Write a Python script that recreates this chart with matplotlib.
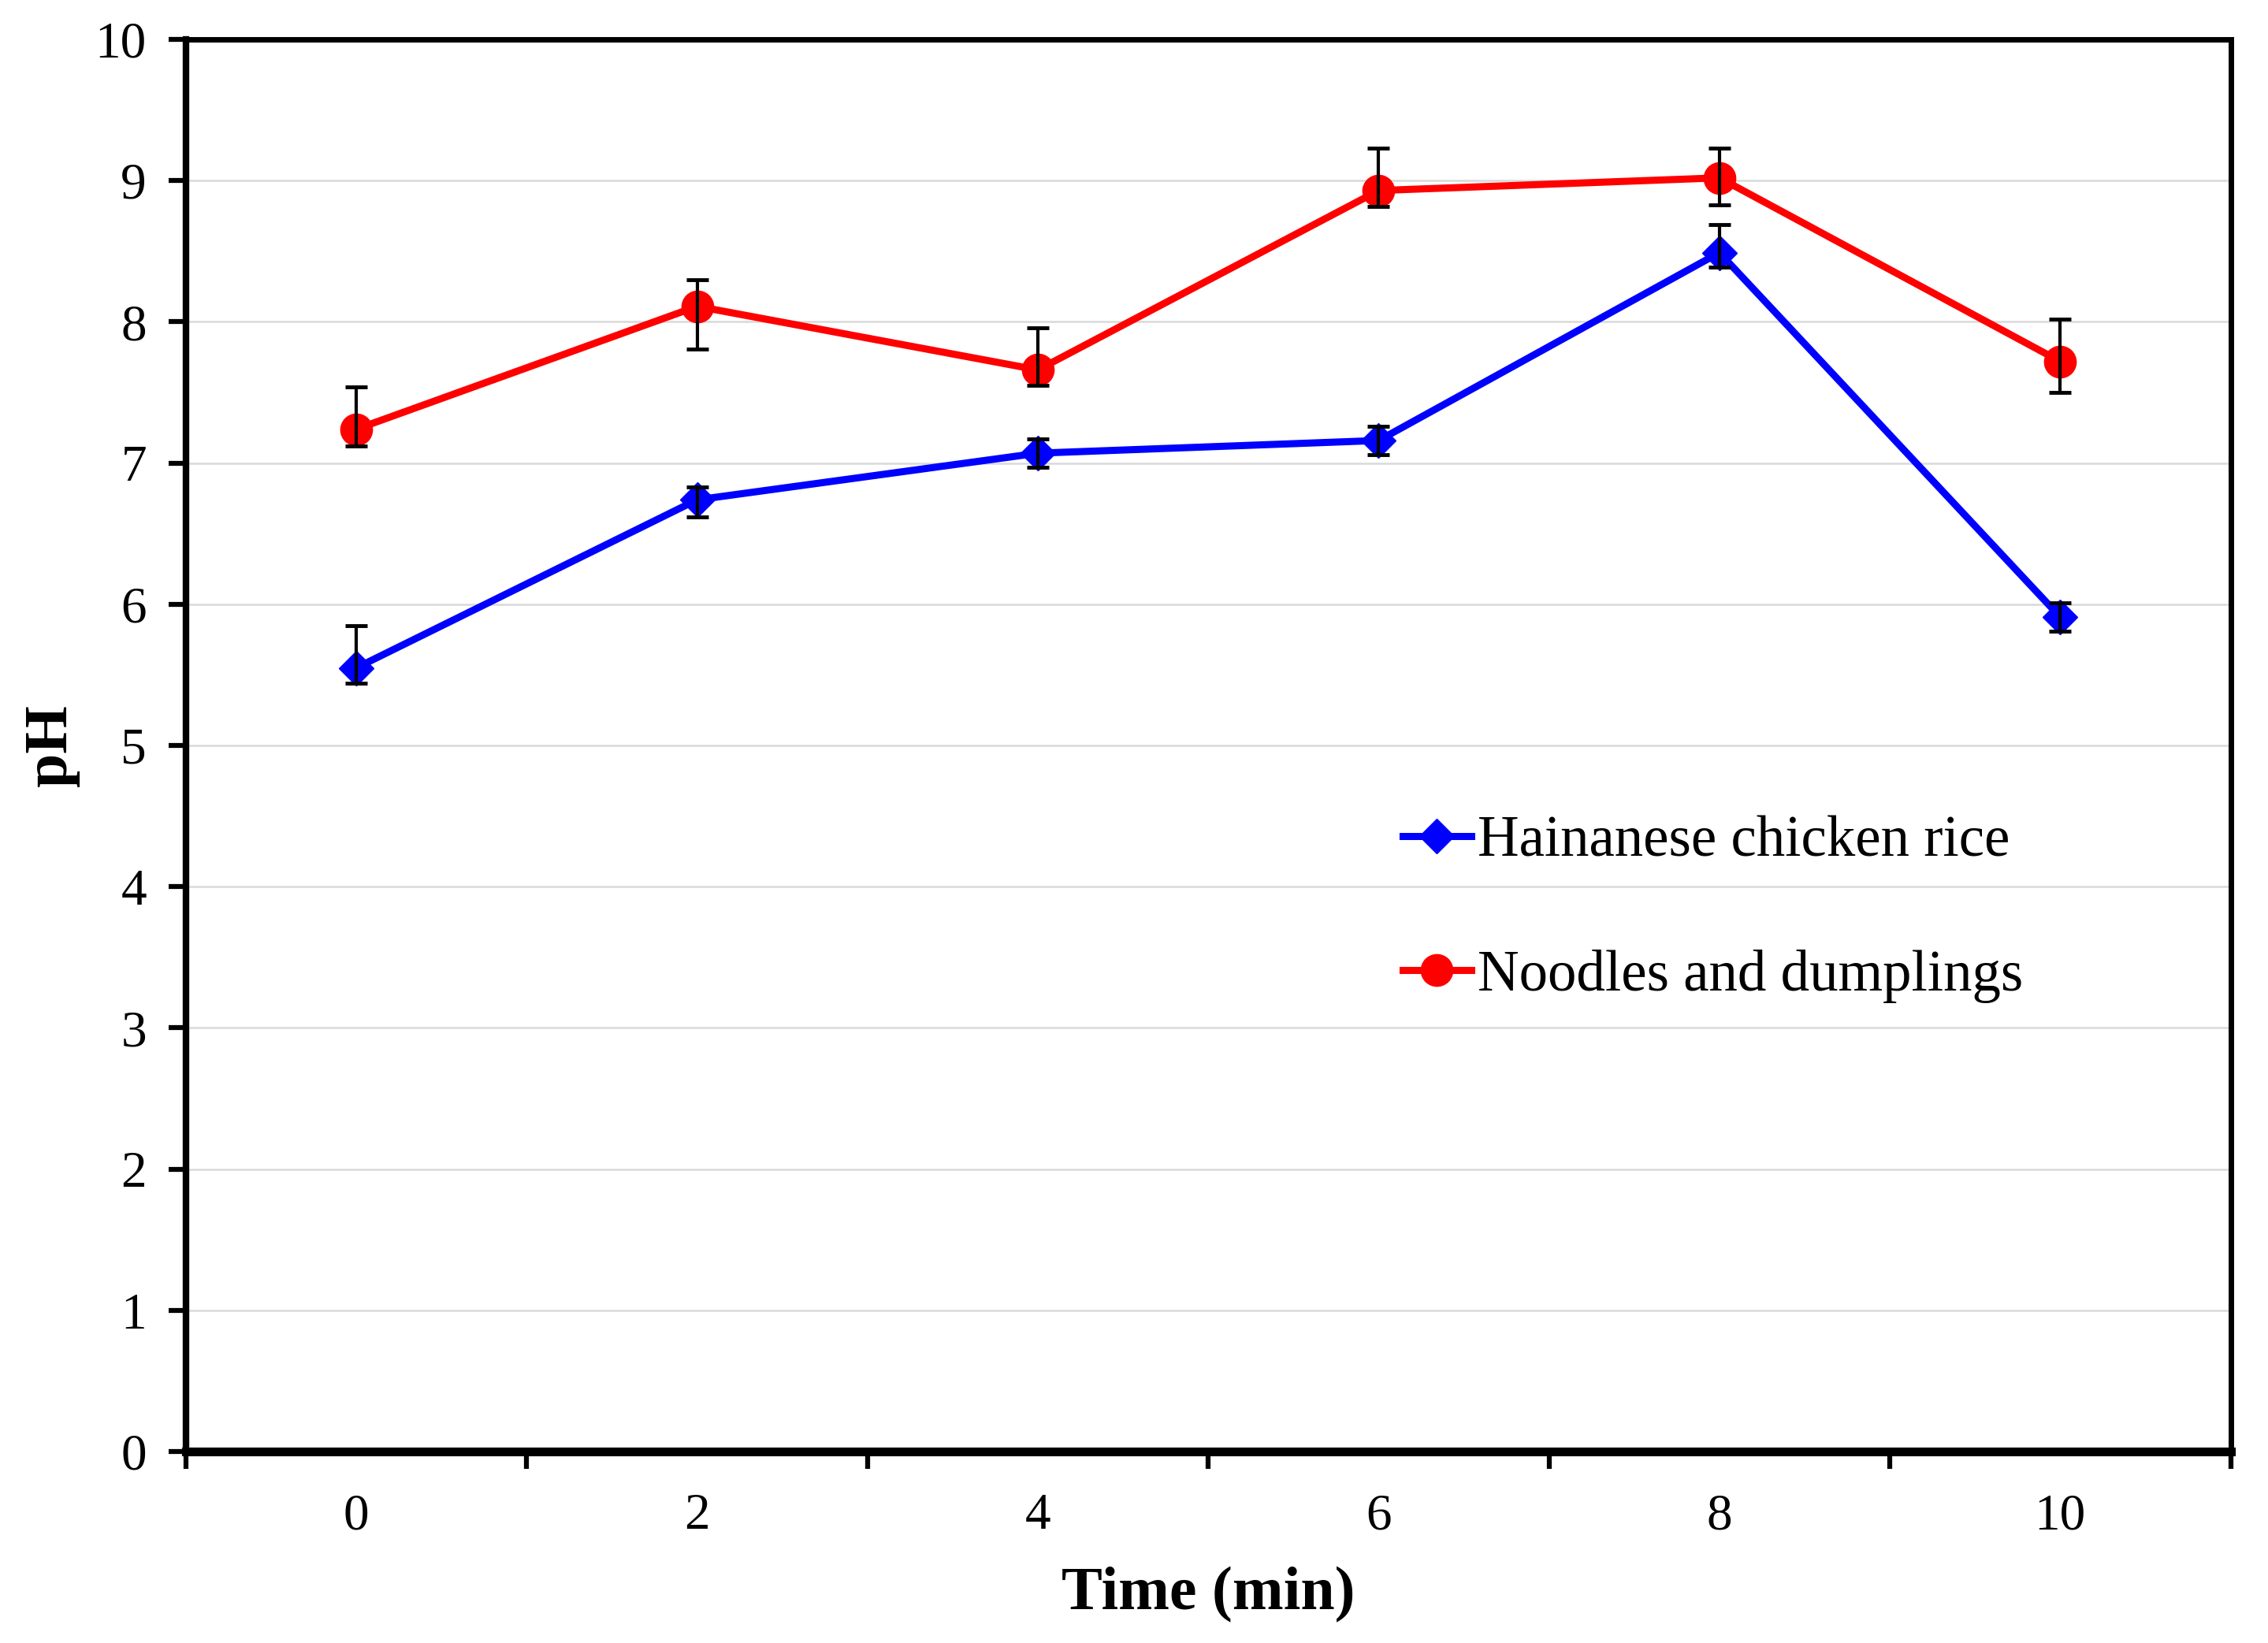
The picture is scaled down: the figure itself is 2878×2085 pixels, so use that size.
import matplotlib
matplotlib.use('Agg')
import matplotlib.pyplot as plt
import numpy as np

plt.rcParams['font.family'] = ['Liberation Serif', 'DejaVu Serif']

# data
time_min = [0, 2, 4, 6, 8, 10]

hcr_ph = [5.55, 6.74, 7.07, 7.16, 8.49, 5.91]
hcr_err_lo = [0.11, 0.12, 0.10, 0.10, 0.10, 0.10]
hcr_err_hi = [0.30, 0.09, 0.10, 0.10, 0.20, 0.10]

nd_ph = [7.24, 8.11, 7.66, 8.93, 9.02, 7.72]
nd_err_lo = [0.12, 0.30, 0.11, 0.11, 0.19, 0.22]
nd_err_hi = [0.30, 0.19, 0.30, 0.30, 0.21, 0.30]

y_ticks = [0, 1, 2, 3, 4, 5, 6, 7, 8, 9, 10]

fig = plt.figure(figsize=(28.78, 20.85), dpi=100)
ax = fig.add_axes([0.082, 0.1165, 0.9015, 0.8595])

ax.yaxis.grid(True, color='#d9d9d9', linewidth=1.8, zorder=0)
ax.set_axisbelow(True)

ax.plot(time_min, hcr_ph, color='#0000ff', linewidth=6.5, marker='D', markersize=22,
        label='Hainanese chicken rice', zorder=3)
ax.plot(time_min, nd_ph, color='#ff0000', linewidth=6.5, marker='o', markersize=29,
        label='Noodles and dumplings', zorder=3)

ax.errorbar(time_min, hcr_ph, yerr=[hcr_err_lo, hcr_err_hi], fmt='none', ecolor='black',
            elinewidth=3, capsize=10, capthick=3.5, zorder=4)
ax.errorbar(time_min, nd_ph, yerr=[nd_err_lo, nd_err_hi], fmt='none', ecolor='black',
            elinewidth=3, capsize=10, capthick=3.5, zorder=4)

ax.set_xlim(-1, 11)
ax.set_ylim(0, 10)

# category-style x axis: ticks between categories, labels at categories
ax.set_xticks([-1, 1, 3, 5, 7, 9, 11])
ax.set_xticklabels([])
ax.set_xticks(time_min, minor=True)
ax.set_xticklabels([str(t) for t in time_min], minor=True)
ax.tick_params(axis='x', which='major', direction='out', length=16, width=4.5)
ax.tick_params(axis='x', which='minor', length=0, pad=38, labelsize=47)

ax.set_yticks(y_ticks)
ax.tick_params(axis='y', direction='out', length=16, width=4.5, pad=20, labelsize=47)

for side, lw in [('left', 6), ('right', 5), ('top', 5), ('bottom', 8)]:
    ax.spines[side].set_linewidth(lw)
    ax.spines[side].set_color('black')

ax.set_xlabel('Time (min)', fontsize=56, fontweight='bold', labelpad=24)
ax.set_ylabel('pH', fontsize=56, fontweight='bold')
ax.yaxis.set_label_coords(-0.052, 0.5)

leg = ax.legend(loc='center left', bbox_to_anchor=(0.595, 0.384), frameon=False,
                fontsize=52.5, numpoints=1, handlelength=1.2, handletextpad=0.1,
                labelspacing=1.4, borderpad=0, borderaxespad=0)

fig.savefig('out.png', dpi=100)
